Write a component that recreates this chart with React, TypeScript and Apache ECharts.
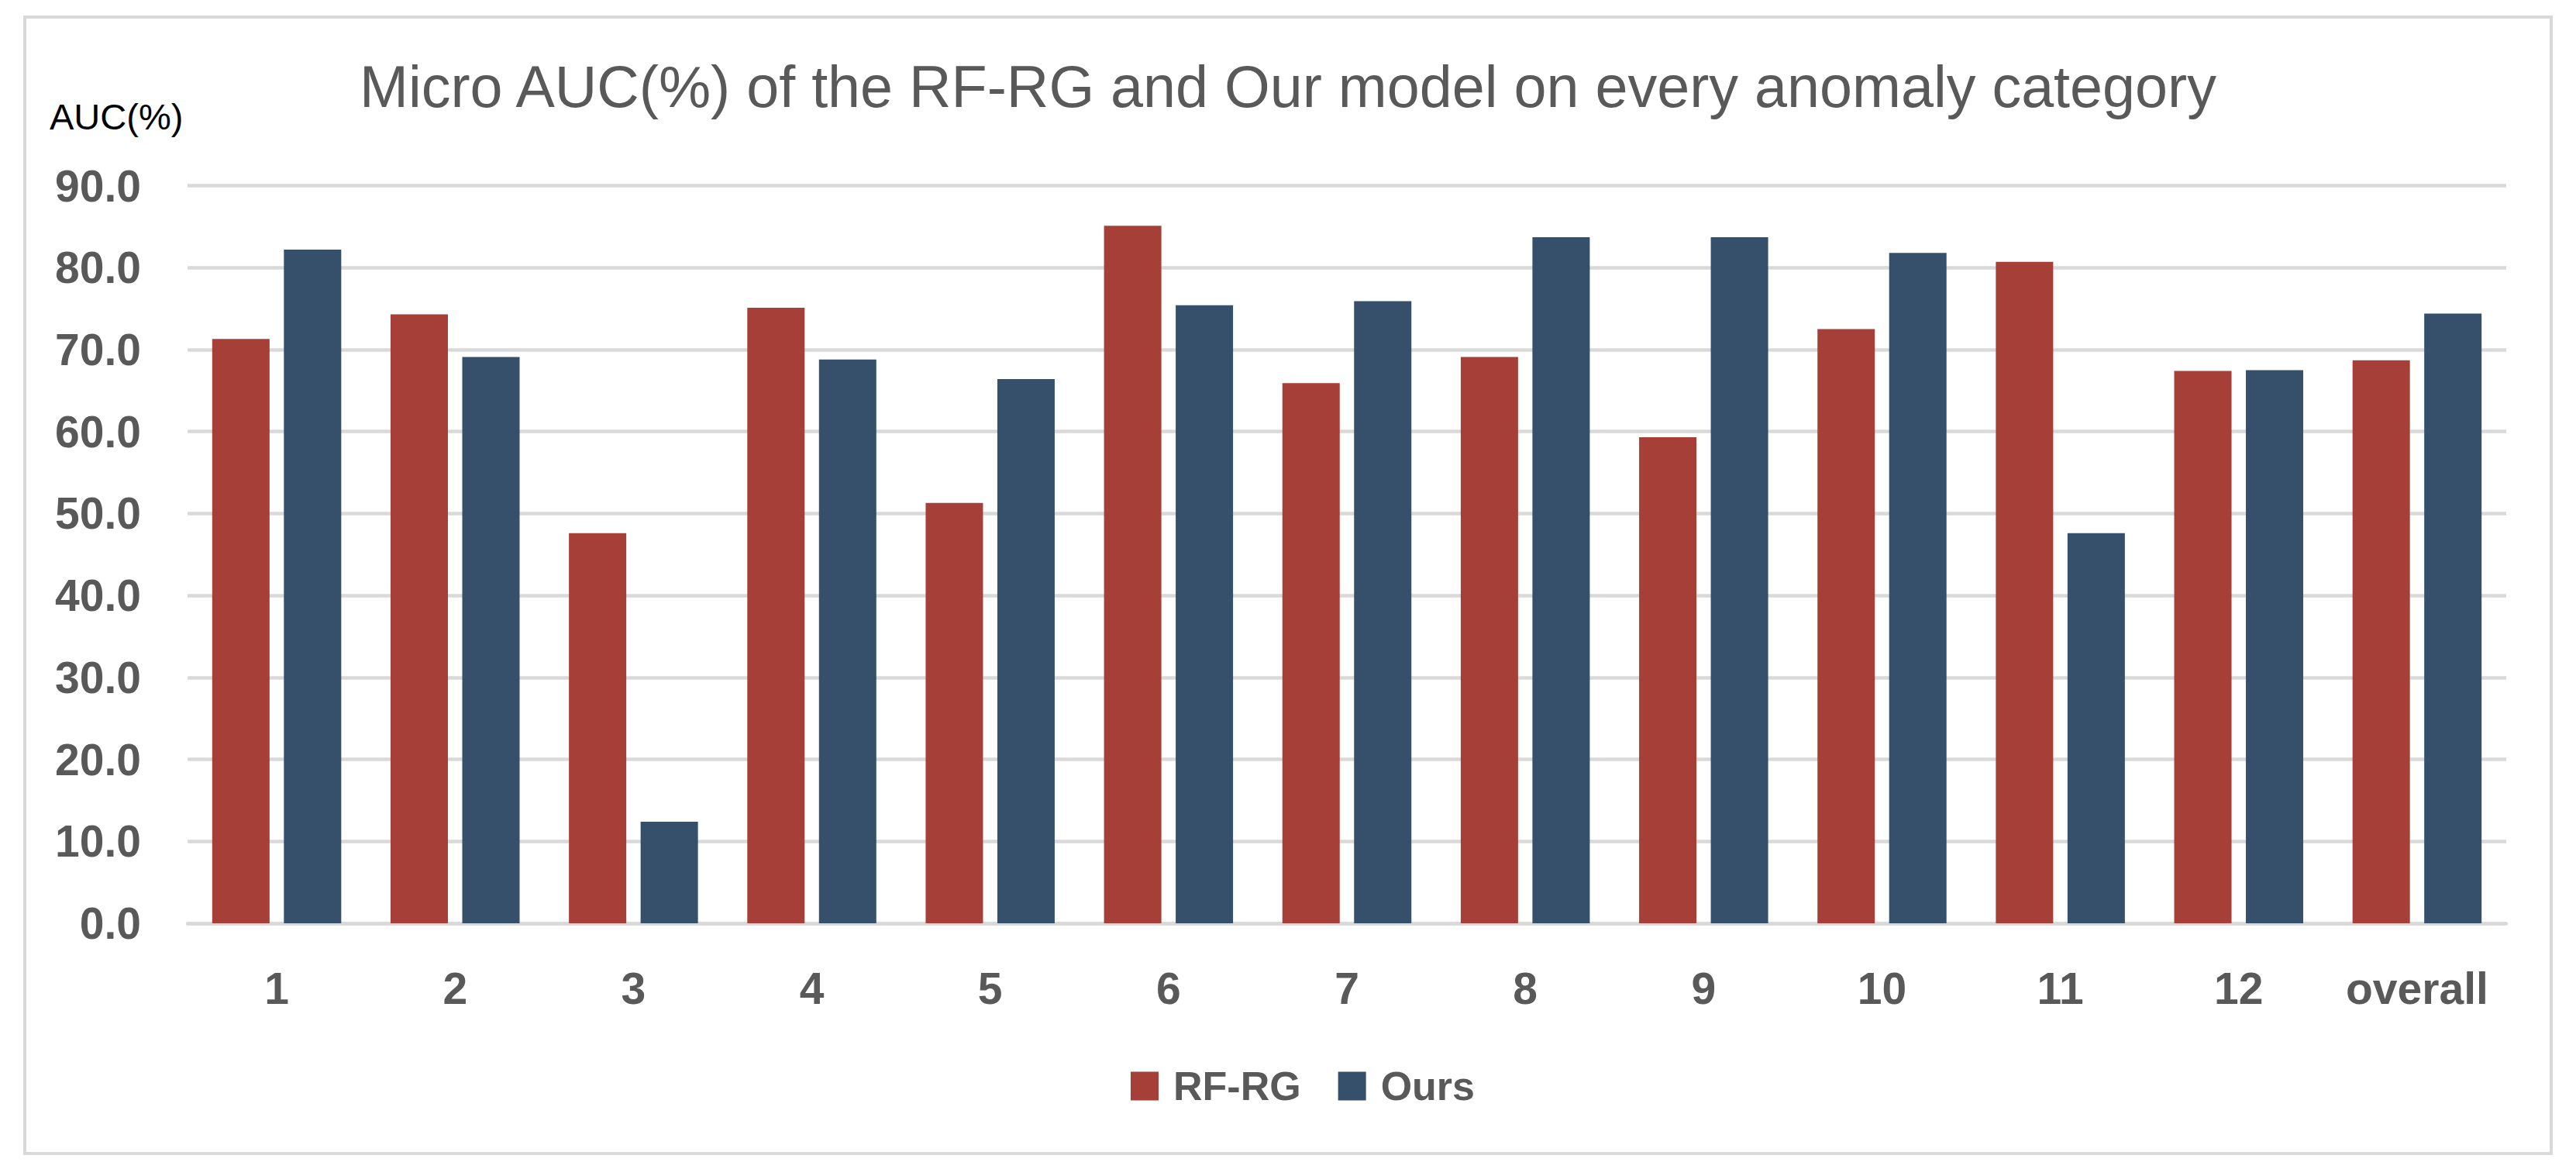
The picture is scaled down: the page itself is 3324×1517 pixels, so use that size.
import React, { useEffect, useRef } from "react";
import * as echarts from "echarts";

const categories = ["1", "2", "3", "4", "5", "6", "7", "8", "9", "10", "11", "12", "overall"];
const rfrgValues = [71.3, 74.3, 47.6, 75.1, 51.3, 85.1, 65.9, 69.1, 59.3, 72.5, 80.7, 67.4, 68.7];
const oursValues = [82.2, 69.1, 12.4, 68.8, 66.4, 75.4, 75.9, 83.7, 83.7, 81.8, 47.6, 67.5, 74.4];
const seriesNames = ["RF-RG", "Ours"];
const titleText = "Micro AUC(%) of the RF-RG and Our model on every anomaly category";
const yAxisTitle = "AUC(%)";

const W = 3324;
const H = 1517;
const FONT = "'Liberation Sans', Arial, sans-serif";
const GREY = "#595959";
const LINE = "#D9D9D9";
const RED = "#A63F38";
const BLUE = "#364F6B";

export default function App() {
  const ref = useRef<HTMLDivElement>(null);
  useEffect(() => {
    document.body.style.margin = "0";
    const chart = echarts.init(ref.current!, null, { renderer: "svg", width: W, height: H });
    chart.setOption({
      animation: false,
      backgroundColor: "#ffffff",
      title: {
        text: titleText,
        left: "center",
        top: 74,
        padding: 0,
        textStyle: { fontFamily: FONT, fontSize: 75.5, fontWeight: "normal", color: GREY },
      },
      legend: {
        data: seriesNames,
        left: 1454,
        top: 1370,
        itemWidth: 36,
        itemHeight: 37,
        itemGap: 48,
        icon: "rect",
        textStyle: { fontFamily: FONT, fontSize: 52, fontWeight: "bold", color: GREY, padding: [0, 0, 0, 14] },
      },
      grid: { left: 242, right: W - 3234, top: 239.5, bottom: H - 1191, containLabel: false },
      xAxis: {
        type: "category",
        data: categories,
        axisLine: { lineStyle: { color: LINE, width: 4.5 } },
        axisTick: { show: false },
        axisLabel: { interval: 0, fontFamily: FONT, fontSize: 57, fontWeight: "bold", color: GREY, margin: 55 },
      },
      yAxis: {
        type: "value",
        min: 0,
        max: 90,
        interval: 10,
        axisLine: { show: false },
        axisTick: { show: false },
        splitLine: { lineStyle: { color: LINE, width: 4.5 } },
        axisLabel: {
          fontFamily: FONT,
          fontSize: 57,
          fontWeight: "bold",
          color: GREY,
          margin: 60,
          formatter: (v: number) => v.toFixed(1),
        },
      },
      graphic: [
        {
          type: "rect",
          shape: { x: 32, y: 22, width: 3260, height: 1466 },
          style: { fill: "none", stroke: LINE, lineWidth: 4 },
          silent: true,
          z: -1,
        },
        {
          type: "text",
          x: 64,
          y: 150.5,
          style: {
            text: yAxisTitle,
            fontFamily: FONT,
            fontSize: 47,
            fill: "#000000",
            textAlign: "left",
            textVerticalAlign: "middle",
          },
        },
      ],
      series: [
        {
          name: seriesNames[0],
          type: "bar",
          data: rfrgValues,
          barWidth: 74,
          barGap: "25%",
          itemStyle: { color: RED },
        },
        {
          name: seriesNames[1],
          type: "bar",
          data: oursValues,
          barWidth: 74,
          barGap: "25%",
          itemStyle: { color: BLUE },
        },
      ],
    });
    return () => chart.dispose();
  }, []);
  return <div ref={ref} style={{ width: W, height: H }} />;
}
